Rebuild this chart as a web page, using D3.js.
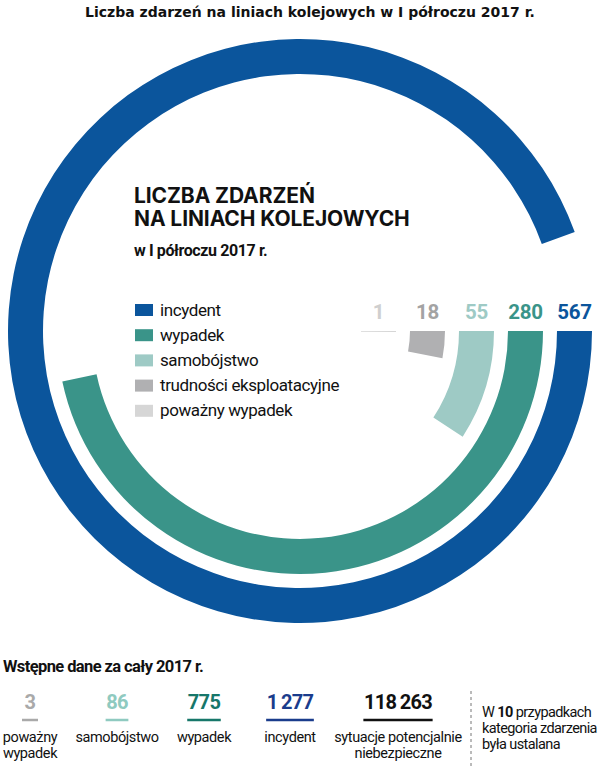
<!DOCTYPE html>
<html>
<head>
<meta charset="utf-8">
<script src="https://cdn.jsdelivr.net/npm/d3@7"></script>
<style>
  body { margin: 0; background: #fff; }
  text { font-family: Roboto, "Liberation Sans", sans-serif; fill: #111; }
</style>
</head>
<body>
<div id="chart"></div>
<script>
// data: I półrocze 2017
var categories = ["incydent", "wypadek", "samobójstwo", "trudności eksploatacyjne", "poważny wypadek"];
var values = [567, 280, 55, 18, 1];
var colors = ["#0b559c", "#3a9489", "#9ecac5", "#b0b0b2", "#d6d6d6"];
var valueColors = ["#0b559c", "#3a9489", "#9ecac5", "#a3a3a3", "#cfcfcf"];

// data: cały 2017 r. (wstępne)
var yearCategories = ["poważny wypadek", "samobójstwo", "wypadek", "incydent", "sytuacje potencjalnie niebezpieczne"];
var yearLabels = [["poważny", "wypadek"], ["samobójstwo"], ["wypadek"], ["incydent"], ["sytuacje potencjalnie", "niebezpieczne"]];
var yearValues = [3, 86, 775, 1277, 118263];
var yearColors = ["#a9a9a9", "#8fcac0", "#17776a", "#1a3c8c", "#111111"];

var width = 600, height = 766;
var cx = 300, cy = 331;

var svg = d3.select("#chart").append("svg")
    .attr("width", width)
    .attr("height", height);

// page title
svg.append("text")
    .attr("x", 310)
    .attr("y", 17)
    .attr("text-anchor", "middle")
    .style("font-family", "'DejaVu Sans', Verdana, sans-serif")
    .style("font-weight", "bold")
    .style("font-size", "14px")
    .text("Liczba zdarzeń na liniach kolejowych w I półroczu 2017 r.");

// scales: 600 events = full circle, rings from outside in
var angle = d3.scaleLinear()
    .domain([0, 600])
    .range([Math.PI / 2, Math.PI / 2 + 2 * Math.PI]);

var ring = d3.scaleBand()
    .domain(categories)
    .range([292, 61])
    .paddingInner(0.2857);

var arc = d3.arc()
    .innerRadius(function(d) { return ring(d.cat); })
    .outerRadius(function(d) { return ring(d.cat) + ring.bandwidth(); })
    .startAngle(angle(0))
    .endAngle(function(d) { return angle(d.value); });

var data = categories.map(function(c, i) {
  return {cat: c, value: values[i], color: colors[i], labelColor: valueColors[i]};
});

var g = svg.append("g")
    .attr("transform", "translate(" + cx + "," + cy + ")");

g.selectAll(".bar")
    .data(data)
  .enter().append("path")
    .attr("class", "bar")
    .attr("d", arc)
    .attr("fill", function(d) { return d.color; });

// value labels above the start of each ring
g.selectAll(".val")
    .data(data)
  .enter().append("text")
    .attr("class", "val")
    .attr("x", function(d) { return ring(d.cat) + ring.bandwidth() / 2; })
    .attr("y", -12)
    .attr("text-anchor", "middle")
    .style("font-weight", "bold")
    .style("font-size", "20.5px")
    .style("letter-spacing", "-0.3px")
    .style("fill", function(d) { return d.labelColor; })
    .text(function(d) { return d.value; });

// inner heading
var head = svg.append("g").attr("transform", "translate(134,0)");
head.append("text")
    .attr("y", 203)
    .style("font-family", "Inter, Roboto, sans-serif")
    .style("font-weight", "bold")
    .style("font-size", "21px")
    .style("letter-spacing", "-0.1px")
    .text("LICZBA ZDARZEŃ");
head.append("text")
    .attr("y", 226)
    .style("font-family", "Inter, Roboto, sans-serif")
    .style("font-weight", "bold")
    .style("font-size", "21px")
    .style("letter-spacing", "-0.1px")
    .text("NA LINIACH KOLEJOWYCH");
head.append("text")
    .attr("y", 256)
    .style("font-weight", "bold")
    .style("font-size", "16px")
    .style("letter-spacing", "-0.4px")
    .text("w I półroczu 2017 r.");

// legend
var legend = svg.append("g")
    .attr("transform", "translate(135,304)");

var row = legend.selectAll(".row")
    .data(data)
  .enter().append("g")
    .attr("class", "row")
    .attr("transform", function(d, i) { return "translate(0," + (i * 25.2) + ")"; });

row.append("rect")
    .attr("width", 18)
    .attr("height", 12)
    .attr("fill", function(d) { return d.color; });

row.append("text")
    .attr("x", 25)
    .attr("y", 11.5)
    .style("font-size", "17px")
    .style("letter-spacing", "-0.4px")
    .text(function(d) { return d.cat; });

// bottom: preliminary full-year data
svg.append("text")
    .attr("x", 3)
    .attr("y", 672)
    .style("font-weight", "bold")
    .style("font-size", "16.5px")
    .style("letter-spacing", "-0.6px")
    .text("Wstępne dane za cały 2017 r.");

var pl = d3.formatLocale({decimal: ",", thousands: "\u2009", grouping: [3], currency: ["", " zł"]});
var fmt = pl.format(",d");

var itemX = d3.scaleOrdinal()
    .domain(yearCategories)
    .range([30, 117, 204, 290, 398]);

var yearData = yearCategories.map(function(c, i) {
  return {cat: c, lines: yearLabels[i], value: yearValues[i], color: yearColors[i]};
});

var item = svg.selectAll(".item")
    .data(yearData)
  .enter().append("g")
    .attr("class", "item")
    .attr("transform", function(d) { return "translate(" + itemX(d.cat) + ",0)"; });

item.append("text")
    .attr("class", "num")
    .attr("y", 709)
    .attr("text-anchor", "middle")
    .style("font-weight", "bold")
    .style("font-size", "20px")
    .style("letter-spacing", "-0.7px")
    .style("fill", function(d) { return d.color; })
    .text(function(d) { return fmt(d.value); });

item.append("line")
    .attr("y1", 720)
    .attr("y2", 720)
    .attr("x1", function(d) {
      var w = d3.select(this.parentNode).select(".num").node().getBBox().width;
      return -Math.max(w + 1, 16) / 2;
    })
    .attr("x2", function(d) {
      var w = d3.select(this.parentNode).select(".num").node().getBBox().width;
      return Math.max(w + 1, 16) / 2;
    })
    .attr("stroke", function(d) { return d.color; })
    .attr("stroke-width", 2.5);

item.each(function(d) {
  var t = d3.select(this).append("text")
      .attr("text-anchor", "middle")
      .style("font-size", "14.5px")
      .style("letter-spacing", "-0.4px");
  d.lines.forEach(function(l, j) {
    t.append("tspan").attr("x", 0).attr("y", 742 + j * 16).text(l);
  });
});

// dashed separator and note
svg.append("line")
    .attr("x1", 471).attr("x2", 471)
    .attr("y1", 691).attr("y2", 766)
    .attr("stroke", "#777")
    .attr("stroke-width", 1)
    .attr("stroke-dasharray", "3,3");

var note = svg.append("text")
    .style("font-size", "14.5px")
    .style("letter-spacing", "-0.6px");
note.append("tspan").attr("x", 482).attr("y", 717).text("W ");
note.append("tspan").style("font-weight", "bold").text("10");
note.append("tspan").text(" przypadkach");
note.append("tspan").attr("x", 482).attr("y", 733).text("kategoria zdarzenia");
note.append("tspan").attr("x", 482).attr("y", 749).text("była ustalana");
</script>
</body>
</html>
